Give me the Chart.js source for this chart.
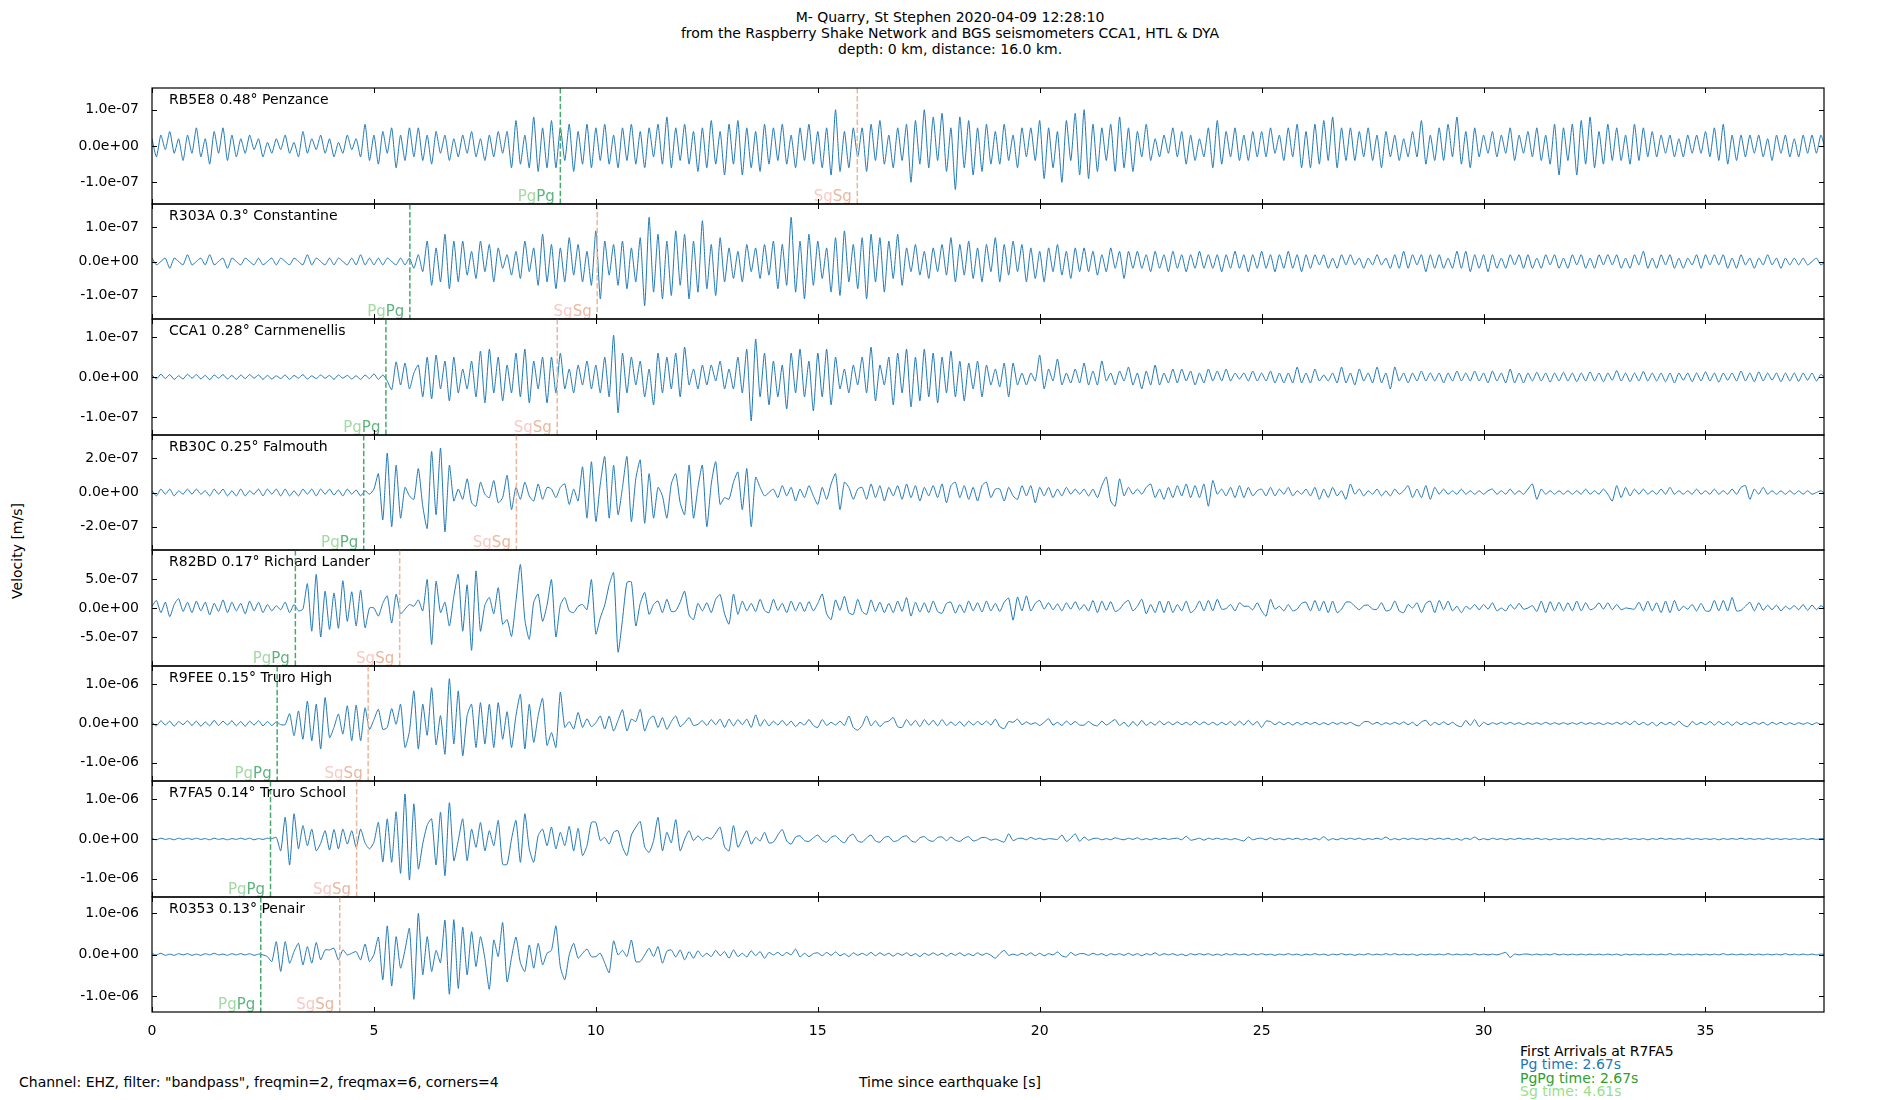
<!DOCTYPE html>
<html>
<head>
<meta charset="utf-8">
<title>M- Quarry, St Stephen 2020-04-09 12:28:10</title>
<script src="https://cdn.jsdelivr.net/npm/chart.js"></script>
<style>
  html, body { margin: 0; padding: 0; background: #fff; }
  #fig { position: relative; width: 1900px; height: 1100px; overflow: hidden;
         font-family: "DejaVu Sans", sans-serif; font-size: 14px; color: #000; }
  .txt { position: absolute; white-space: nowrap; line-height: 16px; }
  .panel { position: absolute; left: 0; }
  .panel canvas { display: block; }
</style>
</head>
<body>
<div id="fig">
  <div class="txt" style="left:950px;top:9px;transform:translateX(-50%)">M- Quarry, St Stephen 2020-04-09 12:28:10</div>
  <div class="txt" style="left:950px;top:25px;transform:translateX(-50%)">from the Raspberry Shake Network and BGS seismometers CCA1, HTL &amp; DYA</div>
  <div class="txt" style="left:950px;top:41px;transform:translateX(-50%)">depth: 0 km, distance: 16.0 km.</div>
  <div class="txt" style="left:17px;top:551px;transform:translate(-50%,-50%) rotate(-90deg)">Velocity [m/s]</div>
  <div class="txt" style="left:19px;top:1074px">Channel: EHZ, filter: "bandpass", freqmin=2, freqmax=6, corners=4</div>
  <div class="txt" style="left:950px;top:1074px;transform:translateX(-50%)">Time since earthquake [s]</div>
  <div class="txt" style="left:1520px;top:1043px">First Arrivals at R7FA5</div>
  <div class="txt" style="left:1520px;top:1056px;color:#1f77b4">Pg time: 2.67s</div>
  <div class="txt" style="left:1520px;top:1070px;color:#2ca02c">PgPg time: 2.67s</div>
  <div class="txt" style="left:1520px;top:1083px;color:#98df8a">Sg time: 4.61s</div>
</div>
<script>
// sampling of the traces (s) and unit of the stored values (m/s)
const DT = 0.1;
const UNIT = 1e-8;
const X_MAX = 37.67;
const xTicks = [0, 5, 10, 15, 20, 25, 30, 35];

const stations = ['RB5E8 0.48° Penzance', 'R303A 0.3° Constantine', 'CCA1 0.28° Carnmenellis',
  'RB30C 0.25° Falmouth', 'R82BD 0.17° Richard Lander', 'R9FEE 0.15° Truro High',
  'R7FA5 0.14° Truro School', 'R0353 0.13° Penair'];
const pgTimes = [9.20, 5.81, 5.27, 4.77, 3.23, 2.82, 2.67, 2.45];
const sgTimes = [15.89, 10.03, 9.13, 8.21, 5.58, 4.87, 4.61, 4.23];
// y half-range and tick step, in units of 1e-8 m/s
const yLimits = [15.97, 16.9, 14.55, 33.6, 100, 146.2, 146.8, 138.6];
const yTickSteps = [10, 10, 10, 20, 50, 100, 100, 100];

// velocity traces, one row per second, units of 1e-8 m/s
const rb5e8 = [
  2,-3,3,-1,4,-2,2,-4,3,-2, 5,-3,2,-5,4,-2,5,-4,3,-3, 2,-2,3,-1,2,-3,1,-2,2,-1,
  3,-2,1,-3,4,-2,2,-1,3,-2, 2,-3,1,-2,3,-1,2,-3,6,-4, 3,-5,4,-2,5,-6,3,-4,5,-3,
  5,-4,3,-5,4,-2,3,-4,2,-3, 3,-2,4,-3,2,-4,3,-3,4,-2, 4,-6,7,-5,3,-6,8,-7,5,-6,
  7,-6,5,-4,6,-7,4,-5,6,-6, 5,-4,6,-5,3,-6,5,-4,6,-5, 4,-6,5,-3,6,-5,8,-6,5,-4,
  6,-5,4,-7,5,-6,7,-5,4,-8, 6,-5,7,-8,5,-6,4,-7,6,-5, 5,-4,6,-5,3,-6,5,-4,6,-5,
  4,-6,5,-8,10,-7,4,-6,5,-3, 5,-7,6,-4,7,-5,3,-6,5,-4, 6,-10,7,-5,10,-6,8,-4,9,-7,
  5,-12,8,-6,7,-8,5,-7,6,-5, 4,-5,6,-4,3,-6,5,-3,5,-4, 7,-9,5,-6,4,-10,7,-4,9,-8,
  10,-9,6,-7,5,-4,6,-7,8,-6, 5,-7,4,-3,6,-4,2,-3,3,-2, 5,-3,4,-5,3,-4,2,-3,5,-6,
  7,-5,4,-3,5,-4,3,-4,4,-3, 4,-3,5,-2,3,-4,5,-3,6,-6, 4,-6,6,-5,7,-4,8,-6,5,-4,
  5,-4,4,-3,5,-4,3,-6,4,-3, 3,-4,2,-3,4,-3,7,-5,3,-4, 5,-4,6,-3,8,-5,4,-6,5,-3,
  3,-2,4,-3,3,-2,5,-4,3,-2, 4,-3,5,-4,3,-5,6,-8,5,-4, 6,-8,7,-5,8,-6,4,-5,6,-4,
  5,-4,3,-5,6,-4,5,-3,4,-3, 3,-2,3,-3,2,-3,3,-2,3,-2, 4,-3,5,-4,6,-5,3,-4,3,-3,
  3,-2,3,-3,2,-4,3,-2,3,-3, 2,-3,3,-2,3,-2,3,-1
];
const r303a = [
  1,-1,0,1,-2,1,0,-1,2,-1, 0,1,-1,2,-1,0,1,-2,1,0, -1,1,0,-1,1,-1,0,1,-1,1,
  0,-1,1,0,-1,2,-1,1,0,-1, 1,-1,1,0,-1,1,-1,2,-1,1, -1,1,-1,1,0,-1,1,-1,1,-2,
  2,-3,6,-7,4,-6,8,-8,6,-6, 6,-4,3,-5,6,-3,5,-6,4,-2, 2,-4,3,-5,6,-3,4,-7,8,-6,
  5,-8,4,-6,7,-4,5,-6,3,-7, 9,-11,6,-4,5,-7,6,-8,4,-6, 7,-13,13,-9,8,-11,6,-10,9,-7,
  8,-11,6,-9,12,-8,5,-10,7,-6, 4,-5,3,-6,5,-3,4,-5,5,-4, 6,-8,5,-7,13,-9,6,-11,8,-7,
  6,-5,4,-9,7,-10,9,-6,5,-8, 7,-11,8,-6,7,-9,6,-5,8,-7, 4,-3,5,-4,3,-5,4,-3,5,-4,
  7,-6,5,-4,6,-5,4,-6,5,-3, 7,-6,5,-4,6,-3,5,-6,4,-5, 3,-6,4,-3,5,-4,3,-5,4,-3,
  4,-3,3,-4,2,-3,4,-2,3,-5, 3,-2,3,-2,2,-3,3,-2,2,-3, 3,-2,2,-3,2,-2,3,-2,2,-2,
  2,-3,2,-2,3,-2,2,-3,2,-2, 3,-2,2,-3,2,-2,3,-2,2,-3, 2,-2,2,-1,2,-2,1,-2,2,-1,
  2,-1,1,-2,1,-1,2,-1,1,-2, 2,-2,3,-2,2,-1,2,-3,2,-2, 2,-2,1,-2,3,-2,3,-3,2,-2,
  2,-3,2,-2,1,-2,2,-1,2,-2, 2,-2,1,-2,2,-1,2,-2,1,-2, 2,-1,2,-2,1,-2,2,-1,2,-1,
  2,-2,1,-2,2,-1,3,-2,1,-2, 2,-1,2,-2,1,-2,1,-1,2,-2, 2,-1,2,-1,2,-2,1,-2,2,-1,
  1,-2,1,-1,2,-1,1,-2,1,-1, 1,-1,1,-1,0,1,-1,0
];
const cca1 = [
  0.5,-0.5,0.7,-0.4,0.6,-0.6,0.3,-0.5,0.7,-0.3, 0.6,-0.5,0.4,-0.7,0.5,-0.3,0.6,-0.5,0.4,-0.6,
  0.5,-0.4,0.6,-0.3,0.5,-0.6,0.4,-0.5,0.3,-0.4, 0.5,-0.6,0.4,-0.3,0.6,-0.5,0.3,-0.4,0.5,-0.3,
  0.4,-0.6,0.5,-0.3,0.4,-0.5,0.3,-0.6,0.5,-0.4, 0.8,-0.6,0.5,-1,-3.2,3.8,-2,3.5,-3,1,
  3,-5,5,-5.5,5.5,-3,4,-6,5,-4, 2,-3,4,-5,6.5,-6.5,7,-4,5,-6, 3,-4,6,-5,7,-6.5,4,-3,5,-6.5,
  5,-4,6,-3,2,-4,3,-2,4,-3, 3,-4,5,-5,10.5,-9,6,-4,5,-2, 4,-5,2,-7,6,-4,5,-3,6,-5,
  7.5,-2,2,-3,3,-2,3,-1,4,-3, 2,-3,5,-4,7,-11,9.5,-5,6,-7, 4,-5,3,-8,6,-4,7,-5,4,-8.5,
  6,-5,7,-7,5,-3,2,-4,3,-2, 5,-4,7.5,-6,3,-2,5,-7,6,-4, 7,-7.5,5,-6,7,-5,6,-6.5,5,-4,
  6.5,-5,4,-6,3.5,-3,4,-5,3,-2, 2,-2.5,3.5,-5,3.5,-2,1,-2,1,-1, 5.5,-3,2,-1,4.5,-2,1,-1.5,2,-1.5,
  3.5,-2,1.5,-2,4,-1,1,-2,1.5,-1, 2.5,-2,1,-3,1.5,-2,3,-2,1,-1.5, 2,-1.5,2,-1,1.5,-2,1,-1.5,2,-1,
  1.5,-1,2,-1,1,-0.5,1,-1,1.5,-1, 1,-1,1.5,-1.5,1,-1.5,1,-1.5,2.5,-1.5, 1,-1.5,2,-1,0.5,-1,1,-1.5,2.5,-1.5,
  1,-2,2,-1,1,-1.5,2.5,-1.5,1,-3, 2.5,-1,1,-1.5,1,-1,1.5,-1,1,-1, 1,-1.5,1,-1,1.5,-1,1,-1,1.5,-1,
  1,-1.5,1.5,-1,1,-1.5,2,-1.5,1,-1.5, 1,-1,1.2,-1,1,-1.3,1,-1,1.2,-1, 1,-1.2,1,-1,1.3,-1,1,-1.2,1,-0.8,
  1.6,-1,1,-1.2,1,-1,1.4,-1,1,-1, 1,-1.2,1,-1.5,1,-0.8,1,-1.2,1,-1, 1.3,-1,1,-1.3,1,-0.8,1,-1,1.5,-1,
  1,-1.2,1.3,-1,1,-0.8,1,-1.2,1,-1, 1,-1.1,1,-0.8,1,-1,0.7,-0.5
];
const rb30c = [
  1,-2,2,-1,2,-2,1,-1,2,-1, 2,-1,1,-2,2,-1,2,-2,1,-2, 2,-2,1,-1,2,-2,2,-1,2,-2,
  2,-2,1,-2,2,-1,2,-2,2,-1, 2,-1.5,1.5,-2,2,-1,1.5,-2,1,-1, 2,11,-16,23,-20,16,-15,3,-2,-4,
  14,-8,-21,24,-13,26,-23,16,-5,2, -4,8,-6,-8,6,-1,-3,7,-6,-3, 10,-10,3,-4,6,-2,-5,5,-4,3,
  2,-3,3,5,-7,2,-5,15,-15,18, -17,5,21,-15,16,-13,3,21,-17,8, 19,-18,11,-15,3,-2,-15,5,11,-6,
  -13,16,-15,3,16,-20,5,18,-7,-3, -4,6,12,-10,14,-20,9,3,-2,0, 2,-3,4,-2,3,-5,2,-3,4,-2,
  -7,3,-4,5,11,-10,6,3,-4,2, 3,-4,5,-3,4,-5,3,-2,4,-4, 5,-3,4,-5,3,-2,4,-3,5,-6,
  4,6,-3,4,-4,3,-5,4,6,-3, 2,2,-5,3,-2,-4,4,-2,4,-6, 3,-2,3,-3,2,-2,3,-1,2,-1,
  2,-2,2,-3,4,9,-5,-8,8,-2, 3,-1,2,-1,3,5,-3,2,-4,3, -3,4,-2,5,-3,4,-3,5,-8,7,
  -1,2,-2,3,-3,4,-3,3,-2,1, 2,-2,3,-2,2,-1,3,-2,1,-1, 2,-2,3,-4,2,-3,3,-2,1,-4,
  5,-1,2,-2,1,-1,2,-2,1,-2, 2,-1,1,4,-3,2,-3,4,-4,3, -1,2,-1,1,-1,2,-1,1,-1,1,
  -1,1,2,-1,1,-1,2,-1,1,-1, 2,5,-4,2,-1,1,-1,1,-1,1, -1,1,-1,2,-1,1,-1,2,-1,-5,
  4,-3,3,-2,2,-1,2,-1,1,-1, 2,-1,3,-1,1,-1,1,-1,2,-1, 1,-1,2,-1,1,-1,2,-1,3,4,
  -4,2,-1,3,-1,1,-1,1,-1,1, -1,1,-1,1,-1,0,1,-1
];
const r82bd = [
  3,13,-8,10,-15,6,16,-6,10,-8, 12,-5,10,-12,8,-6,14,-8,10,-5, 8,-10,12,-5,10,-8,6,-5,4,-3,
  10,-8,6,-5,-2,42,-40,58,-50,29, -37,26,-35,47,-23,28,-31,31,-34,0, 0,-14,8,21,-26,24,-10,-2,6,3,
  14,-5,49,-63,46,-8,10,-31,20,58, -40,40,-73,64,-40,5,18,-10,35,-28, -20,-49,12,75,-20,-54,10,24,-23,5,
  49,-50,5,18,-5,-8,3,6,-3,49, -45,-17,5,40,61,-76,-20,44,45,-31, 8,27,-11,6,12,-8,15,-6,-5,10,
  29,-12,-20,8,-5,9,-8,15,23,-10, -28,24,-11,12,-5,8,-6,15,-4,-8, 15,-4,8,-8,12,-5,10,-6,11,-5,
  8,24,-10,-20,14,-4,20,-8,-11,15, -6,-11,14,-6,10,-8,8,-8,12,-6, 18,-14,10,-7,9,-8,12,-6,-9,8,
  10,-9,6,-8,12,-5,9,-7,12,-5, 8,-6,10,17,-21,19,-5,21,-5,8, 13,-2,9,-3,7,-5,9,-2,11,-3,
  6,-5,13,-8,12,-4,11,-6,-2,8, 13,-5,3,15,-10,6,-8,12,-8,12, -8,6,-5,12,-8,-2,12,-5,13,-5,
  15,-2,-1,6,-5,9,3,3,-3,9, -5,-14,15,-2,3,-5,6,-5,-2,8, 10,-5,13,-5,12,-8,12,-8,-2,10,
  10,3,-3,4,5,-2,-2,9,-5,-3, 12,-5,-8,6,0,9,-8,8,12,-8, 13,-3,12,-5,3,-8,3,-2,6,-3,
  6,-2,9,-5,0,-5,6,-2,8,-2, 0,4,-6,12,-8,11,-5,10,-5,9, -5,12,-5,9,-3,0,9,-2,9,-3,
  6,-3,0,-1,-2,10,-5,12,-5,9, -8,12,-8,13,-5,3,-2,6,-5,8, -5,-5,13,-5,13,-5,18,-5,-4,3,
  10,-5,9,-4,5,-3,5,-5,3,-2, 4,-3,6,-4,5,-3,4,-2
];
const r9fee = [
  3,-6,7,-4,6,-7,5,-3,7,-5, 6,-7,4,-6,8,-5,6,-4,7,-6, 5,-7,6,-4,7,-6,5,-5,4,-3,
  -3,25,-31,32,-40,57,-44,49,-65,66, -36,-10,24,-27,45,-44,47,-44,40,-15, 10,36,-15,-10,38,-2,49,-61,-20,83,
  -65,49,-30,91,-54,20,-78,114,-52,83, -82,20,49,-61,53,-52,49,-61,53,-40, 30,-61,20,74,-65,49,-48,20,64,-56,
  -23,-61,80,-10,5,-14,28,-10,12,-8, 2,19,-14,19,-19,8,35,-19,11,5, 36,-19,10,19,-10,15,-15,5,19,-8,
  2,15,-5,-2,7,-5,10,-3,11,-10, 11,-6,10,-3,11,-10,22,-7,10,-6, 6,-4,8,-5,6,-8,3,-4,10,-5,
  -10,10,-5,3,-4,6,-5,19,-10,-17, -5,19,-6,7,-8,3,6,15,-8,-10, 10,-5,8,-8,10,-4,8,-6,10,-5,
  4,-5,5,-7,6,-4,5,-3,6,-4, 11,-8,-13,5,3,11,-3,4,-2,2, -5,3,12,-4,3,-5,6,-3,5,-4,
  -4,5,-3,-6,6,-4,3,10,-5,3, -8,5,-6,8,-5,3,-4,6,-3,4, -3,4,-3,3,-4,5,-3,4,-3,3,
  -4,3,-3,5,-5,6,-4,8,-4,5, -10,6,5,-3,4,-3,3,-4,3,-3, 3,-2,3,-3,2,-3,3,-2,3,-2,
  3,-3,-6,4,5,-2,3,-3,2,-2, 3,-2,4,-3,3,-6,4,8,-5,3, -3,4,-3,3,-5,-8,8,-5,10,-8,
  3,-3,2,-2,3,-2,3,-2,2,-3, 2,-2,2,-2,3,-2,2,-2,2,-2, 2,-2,3,-2,2,-2,2,-3,2,-2,
  3,-2,4,-3,6,-3,3,-4,3,-6, 3,-3,3,-4,6,-4,-8,5,-3,3, -3,5,-4,5,-3,4,-5,4,-3,3,
  -3,3,-2,3,-4,3,-2,3,-3,2, -3,2,-2,2,-3,2,-2,1
];
const r7fa5 = [
  1,-2,2,-1,1,-2,2,-1,2,-1, 2,-1,1,-2,2,-1,1,-2,1,-1, 2,-1,2,-2,1,-1,2,1,4,-30,
  55,-66,64,-25,34,-17,25,-30,-11,21, -28,24,-25,25,-13,21,-21,25,-10,-25, -8,42,-58,51,-59,69,-87,114,-104,89,
  -76,-12,35,51,-66,68,-93,92,-55,-4, 51,-55,25,-21,42,-30,21,-17,47,-64, -64,0,47,-59,64,-25,-59,8,25,-17,
  30,-25,17,-17,32,-30,27,-42,-17,42, 42,-4,4,-13,17,21,-20,-42,10,30, 44,-20,-34,-4,55,-30,17,-10,49,-30,
  0,21,-4,8,-3,4,0,15,30,-20, -30,34,-21,0,21,-13,4,-5,17,-10, -8,10,24,-5,-13,5,8,-4,-6,3,
  10,-3,-8,4,8,-3,-10,6,12,-5, -8,3,10,-5,-8,4,6,-6,-4,5, 8,-4,-8,3,6,-3,-6,4,5,-4,
  5,-3,-6,2,6,-5,-2,4,3,-3, 0,-4,-8,13,-4,1,2,-2,4,-1, 2,-2,1,0,-1,10,-6,2,13,-6,
  5,-3,1,2,-2,1,-2,3,0,-2, 2,-1,3,-2,1,-2,2,-1,2,-1, 1,2,-2,7,-3,-1,2,-3,2,-1,
  2,-1,1,-2,1,-2,-5,5,-2,1, 2,-2,3,-2,1,-2,2,-1,2,-2, 1,-2,2,-2,6,-3,1,-2,2,-1,
  2,-1,2,-2,1,-1,2,-1,5,-2, 1,-2,2,-1,2,-1,1,-2,2,-1, 2,-1,2,-2,1,-3,2,-1,5,-2,
  1,-2,2,-1,1,-2,1,-1,2,-1, 1,-1,2,-1,1,-2,1,-1,1,-1, 2,-1,1,-1,2,-1,1,-2,1,-1,
  1,-1,2,-1,1,-1,1,-2,1,-1, 2,-1,1,-1,1,-1,2,-1,1,-1, 1,-1,1,-2,1,-1,1,-1,2,-1,
  1,-1,1,-1,2,-1,1,-1,1,-1, 1,-1,1,-1,1,-1,1,0
];
const r0353 = [
  2,-1,3,-2,1,-2,2,-1,2,-2, 1,-2,2,-1,3,-1,1,-2,2,-1, 2,-1,2,-2,1,-1,-5,-17,31,-41,
  31,-21,7,27,-25,19,-21,29,-13,11, 11,15,-13,11,-1,3,7,-13,25,-17, 0,42,-61,69,-76,43,-33,11,63,-108,
  99,-49,43,-41,10,-20,83,-96,84,-82, 66,-49,55,-29,43,-10,-84,35,-5,77, -66,-7,42,-20,-41,23,-33,27,-25,3,
  10,69,-30,-61,-1,27,-9,3,13,-5, -5,3,-20,-44,33,-1,10,-5,35,-17, -17,-1,15,-5,19,-21,8,11,-6,11,
  -13,7,-9,9,-5,3,-5,10,-3,7, -9,11,-5,3,-6,9,-3,7,-9,5, -1,5,-3,5,-1,13,-6,3,-5,2,
  4,-3,5,-2,6,-3,2,-5,4,-2, 3,-2,5,-3,4,-2,3,-4,3,-2, 4,-3,2,-5,3,-2,4,-2,3,-4,
  3,-2,4,-3,2,-3,4,-2,3,-2, -9,2,10,-2,1,-2,3,-2,4,-3, 3,-3,2,-1,6,-3,-6,5,-2,2,
  2,-2,3,-1,2,-3,2,-1,2,-2, 3,-2,2,-3,2,-1,4,-2,2,-1, 2,-2,1,-3,2,-1,2,-1,2,-2,
  1,-2,2,-1,2,-1,1,-2,2,-1, 2,-1,1,-2,1,-1,2,-1,1,-2, 1,-1,2,-1,1,-2,1,-1,2,-1,
  1,-2,1,-1,2,-1,1,-1,2,-1, 2,-1,1,-1,1,-2,1,-1,1,-1, 1,-1,2,-1,1,-1,1,-1,2,-1,
  1,-1,1,-1,2,5,-7,1,-1,1, 1,-1,1,-1,1,-1,2,-1,1,-1, 1,-1,1,-1,1,-1,1,-1,1,-1,
  1,-2,1,-1,1,-1,1,-1,1,-1, 1,-1,2,-1,1,-1,1,-1,1,-1, 1,-1,1,-1,2,-1,1,-1,1,-1,
  1,-1,1,-1,1,-1,1,-1,2,-1, 1,-1,1,-1,1,-1,1,0
];
const traces = [rb5e8, r303a, cca1, rb30c, r82bd, r9fee, r7fa5, r0353];

// layout of the figure (px)
const FIG_W = 1860;
const PAD = 16;
const AXIS_H = 30;
const PLOT_LEFT = 152;
const PLOT_RIGHT = 1824;
const panelEdges = [88, 204, 319, 435, 550, 666, 781, 897, 1012];
const FONT = '14px "DejaVu Sans"';
const PHASE_FONT = '15px "DejaVu Sans"';

const TRACE_COLOR = '#1f77b4';
const PG_LINE = '#48a96f', PG_LIGHT = '#a3d9a3', PG_DARK = '#5db37e';
const SG_LINE = '#e9b89c', SG_LIGHT = '#f7c9c4', SG_DARK = '#e8b79d';

Chart.defaults.font.family = '"DejaVu Sans", sans-serif';
Chart.defaults.font.size = 14;
Chart.defaults.color = '#000';

// matplotlib style "1.0e-07"
function sciLabel(v) {
    return Number(v).toExponential(1).replace(/e([+-])(\d)$/, 'e$10$2');
}

function drawArrival(ctx, area, px, lineColor, lightColor, darkColor, phase) {
    ctx.save();
    ctx.setLineDash([5.5, 2.4]);
    ctx.strokeStyle = lineColor;
    ctx.lineWidth = 1.5;
    ctx.beginPath();
    ctx.moveTo(px, area.top);
    ctx.lineTo(px, area.bottom);
    ctx.stroke();
    ctx.setLineDash([]);
    ctx.font = PHASE_FONT;
    ctx.textAlign = 'right';
    ctx.textBaseline = 'alphabetic';
    const right = px - 5.5;
    const base = area.bottom - 3;
    ctx.fillStyle = darkColor;
    ctx.fillText(phase, right, base);
    ctx.fillStyle = lightColor;
    ctx.fillText(phase, right - ctx.measureText(phase).width, base);
    ctx.restore();
}

// frame, inward ticks, arrival markers and station name
const panelDecor = {
    id: 'panelDecor',
    afterDatasetsDraw(chart, args, opts) {
        const { ctx, chartArea: a } = chart;
        const x = chart.scales.x, y = chart.scales.y;
        drawArrival(ctx, a, x.getPixelForValue(opts.sg), SG_LINE, SG_LIGHT, SG_DARK, 'Sg');
        drawArrival(ctx, a, x.getPixelForValue(opts.pg), PG_LINE, PG_LIGHT, PG_DARK, 'Pg');

        ctx.save();
        ctx.strokeStyle = '#000';
        ctx.lineWidth = 1.2;
        ctx.strokeRect(a.left, a.top, a.right - a.left, a.bottom - a.top);
        ctx.lineWidth = 1;
        ctx.beginPath();
        xTicks.forEach(v => {
            const px = Math.round(x.getPixelForValue(v)) + 0.5;
            ctx.moveTo(px, a.top); ctx.lineTo(px, a.top + 5);
            ctx.moveTo(px, a.bottom); ctx.lineTo(px, a.bottom - 5);
        });
        y.ticks.forEach(t => {
            const py = Math.round(y.getPixelForValue(t.value)) + 0.5;
            ctx.moveTo(a.left, py); ctx.lineTo(a.left + 5, py);
            ctx.moveTo(a.right, py); ctx.lineTo(a.right - 5, py);
        });
        ctx.stroke();
        ctx.font = FONT;
        ctx.fillStyle = '#000';
        ctx.textAlign = 'left';
        ctx.textBaseline = 'alphabetic';
        ctx.fillText(opts.name, a.left + 17, a.top + 16);
        ctx.restore();
    }
};

const fig = document.getElementById('fig');

traces.forEach((trace, i) => {
    const last = i === traces.length - 1;
    const top = panelEdges[i];
    const h = panelEdges[i + 1] - panelEdges[i];
    const box = document.createElement('div');
    box.className = 'panel';
    box.style.top = (top - PAD) + 'px';
    const cv = document.createElement('canvas');
    cv.width = FIG_W;
    cv.height = h + PAD + (last ? AXIS_H : PAD);
    box.appendChild(cv);
    fig.appendChild(box);

    const lim = yLimits[i] * UNIT;
    const step = yTickSteps[i] * UNIT;

    new Chart(cv, {
        type: 'line',
        data: {
            datasets: [{
                data: trace.map((v, k) => ({ x: k * DT, y: v * UNIT })),
                borderColor: TRACE_COLOR,
                borderWidth: 1,
                pointRadius: 0,
                tension: 0.2,
                fill: false
            }]
        },
        options: {
            responsive: false,
            animation: false,
            events: [],
            parsing: false,
            layout: { padding: { top: PAD, bottom: last ? 0 : PAD, left: 0, right: FIG_W - PLOT_RIGHT } },
            plugins: {
                legend: { display: false },
                tooltip: { enabled: false },
                panelDecor: { name: stations[i], pg: pgTimes[i], sg: sgTimes[i] }
            },
            scales: {
                x: {
                    type: 'linear',
                    min: 0,
                    max: X_MAX,
                    display: last,
                    // only the bottom panel keeps room for the time labels
                    afterFit(scale) { scale.height = last ? AXIS_H : 0; },
                    afterBuildTicks(scale) { scale.ticks = xTicks.map(v => ({ value: v })); },
                    grid: { display: false },
                    border: { display: false },
                    ticks: { padding: 3, maxRotation: 0, autoSkip: false, color: '#000' }
                },
                y: {
                    type: 'linear',
                    min: -lim,
                    max: lim,
                    afterFit(scale) { scale.width = PLOT_LEFT; },
                    afterBuildTicks(scale) {
                        scale.ticks = [-step, 0, step].map(v => ({ value: v }));
                    },
                    grid: { display: false },
                    border: { display: false },
                    ticks: { padding: 5, color: '#000', callback: v => sciLabel(v) }
                }
            }
        },
        plugins: [panelDecor]
    });
});
</script>
</body>
</html>
